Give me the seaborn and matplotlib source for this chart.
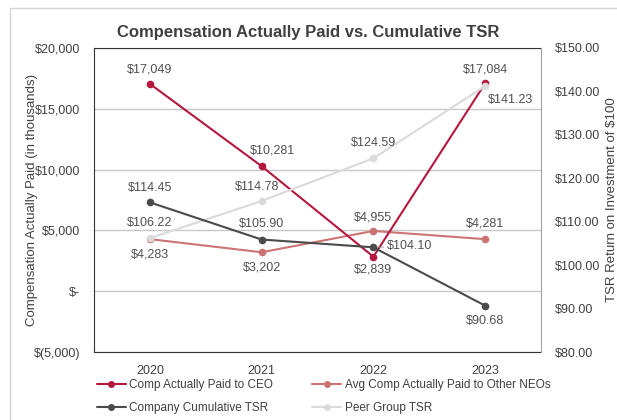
import matplotlib
matplotlib.use("Agg")
import matplotlib.pyplot as plt
import matplotlib.ticker as mticker
from matplotlib.lines import Line2D
from matplotlib.patches import Rectangle
import seaborn as sns
import pandas as pd

# Data
years = ["2020", "2021", "2022", "2023"]
ceo_cap = [17049, 10281, 2839, 17084]
neo_cap = [4283, 3202, 4955, 4281]
company_tsr = [114.45, 105.90, 104.10, 90.68]
peer_tsr = [106.22, 114.78, 124.59, 141.23]

sns.set_style("white")
plt.rcParams["font.family"] = ["Liberation Sans", "DejaVu Sans"]

text_color = "#404040"
c_ceo = "#B5173F"
c_neo = "#CC7474"
c_co = "#4A4A4A"
c_peer = "#DADADA"

df = pd.DataFrame({
    "year": years,
    "ceo": ceo_cap,
    "neo": neo_cap,
    "company": company_tsr,
    "peer": peer_tsr,
})

fig = plt.figure(figsize=(6.17, 4.2), dpi=100)
ax1 = fig.add_axes([94 / 617, 68 / 420, 447 / 617, 304 / 420])
ax2 = ax1.twinx()

# outer light border around the chart
fig.patches.append(Rectangle((10 / 617, -0.01), 1.0, 1 - 8 / 420 + 0.01,
                             transform=fig.transFigure, fill=False,
                             edgecolor="#D4D4D4", linewidth=1.0))

line_kw = dict(marker="o", markersize=5.5, markeredgewidth=0, linewidth=1.5)
sns.lineplot(data=df, x="year", y="ceo", ax=ax1, color=c_ceo, zorder=4, **line_kw)
sns.lineplot(data=df, x="year", y="neo", ax=ax1, color=c_neo, zorder=3, **line_kw)
sns.lineplot(data=df, x="year", y="company", ax=ax2, color=c_co, zorder=3, **line_kw)
sns.lineplot(data=df, x="year", y="peer", ax=ax2, color=c_peer, zorder=2, **line_kw)

ax1.set_xlim(-0.5, 3.5)
ax1.set_ylim(-5000, 20000)
ax2.set_ylim(80, 150)
ax1.yaxis.set_major_locator(mticker.MultipleLocator(5000))
ax2.yaxis.set_major_locator(mticker.MultipleLocator(10))


def money(v, pos=None):
    if v == 0:
        return "$-"
    if v < 0:
        return "$({:,.0f})".format(-v)
    return "${:,.0f}".format(v)


ax1.yaxis.set_major_formatter(mticker.FuncFormatter(money))
ax2.yaxis.set_major_formatter(mticker.FuncFormatter(lambda v, p: "${:.2f}".format(v)))

ax1.grid(axis="y", color="#C8C8C8", linewidth=1.0)
ax1.set_axisbelow(True)

for ax in (ax1, ax2):
    ax.tick_params(axis="both", length=0, labelsize=9, labelcolor=text_color, pad=10)
    ax.set_xlabel("")
for side in ("left", "top", "bottom"):
    ax1.spines[side].set_color("#333333")
    ax2.spines[side].set_visible(False)
ax1.spines["right"].set_visible(False)
ax2.spines["right"].set_color("#A0A0A0")
ax1.tick_params(axis="x", pad=9)

ax1.set_ylabel("Compensation Actually Paid (in thousands)", fontsize=9.5,
               color=text_color, labelpad=-3)
ax2.set_ylabel("TSR Return on Investment of $100", fontsize=9.5,
               color=text_color, labelpad=4)

fig.text(0.5, 1 - 32 / 420, "Compensation Actually Paid vs. Cumulative TSR",
         fontsize=12, fontweight="bold", color=text_color, ha="center", va="center")

# data labels: (dx, dy) offsets in points, label centred on that spot
lab_kw = dict(textcoords="offset points", fontsize=9, color="#505050",
              ha="center", va="center")
up, down = 10, -11
ceo_off = [(0, up), (8, up + 1), (0, down + 2), (0, up)]
neo_off = [(0, down), (0, down), (0, up), (0, up + 1)]
co_off = [(0, up), (0, up + 1), (10, 1), (0, down)]
peer_off = [(0, up + 1), (-3, up), (0, up + 1), (2, -10)]
for i in range(len(years)):
    ax1.annotate("${:,.0f}".format(ceo_cap[i]), (i, ceo_cap[i]), xytext=ceo_off[i], **lab_kw)
    ax1.annotate("${:,.0f}".format(neo_cap[i]), (i, neo_cap[i]), xytext=neo_off[i], **lab_kw)
    kw = dict(lab_kw)
    if co_off[i][0] > 5:
        kw.update(ha="left", arrowprops=dict(arrowstyle="-", color="#8C8C8C", lw=0.6,
                                             shrinkA=0, shrinkB=3))
    ax2.annotate("${:.2f}".format(company_tsr[i]), (i, company_tsr[i]), xytext=co_off[i], **kw)
    kw = dict(lab_kw)
    if i == 3:
        kw.update(ha="left")
    ax2.annotate("${:.2f}".format(peer_tsr[i]), (i, peer_tsr[i]), xytext=peer_off[i], **kw)

handles = [
    Line2D([], [], color=c_ceo, marker="o", markersize=5, markeredgewidth=0, linewidth=1.5),
    Line2D([], [], color=c_co, marker="o", markersize=5, markeredgewidth=0, linewidth=1.5),
    Line2D([], [], color=c_neo, marker="o", markersize=5, markeredgewidth=0, linewidth=1.5),
    Line2D([], [], color=c_peer, marker="o", markersize=5, markeredgewidth=0, linewidth=1.5),
]
labels = ["Comp Actually Paid to CEO", "Company Cumulative TSR",
          "Avg Comp Actually Paid to Other NEOs", "Peer Group TSR"]
fig.legend(handles, labels, loc="upper left", bbox_to_anchor=(97 / 617, 1 - 379 / 420),
           ncol=2, frameon=False, fontsize=8.5, labelcolor=text_color,
           handlelength=2.45, columnspacing=3.3, handletextpad=0.3,
           labelspacing=0.95, borderaxespad=0, borderpad=0)

fig.savefig("out.png", dpi=100)
